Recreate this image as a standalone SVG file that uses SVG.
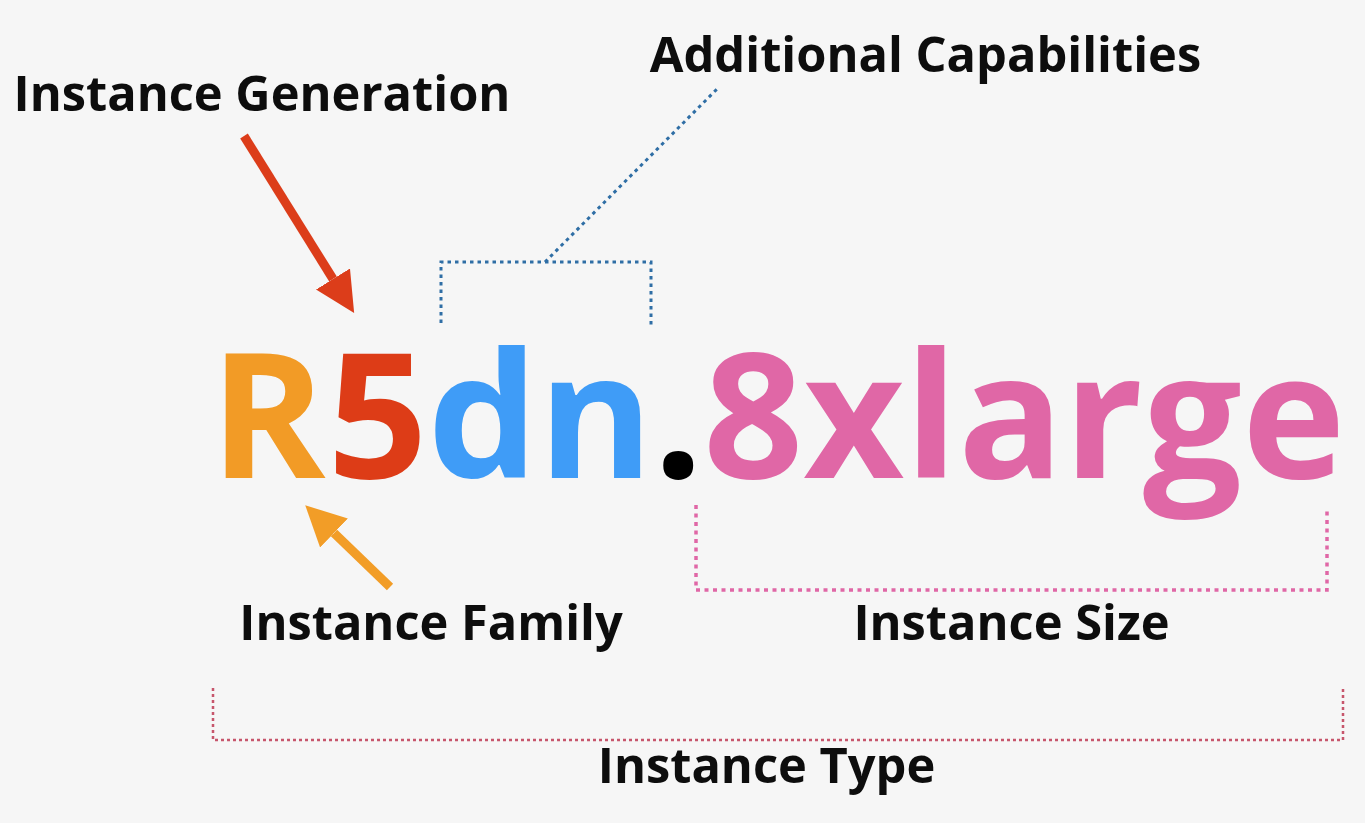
<svg xmlns="http://www.w3.org/2000/svg" width="1365" height="823" viewBox="0 0 1365 823">
<style>
.lbl{font-family:"Open Sans","Noto Sans","Liberation Sans",sans-serif;font-weight:700;font-size:48.8px;fill:#0d0d0d;text-anchor:middle}
.big{font-family:"Open Sans","Noto Sans","Liberation Sans",sans-serif;font-weight:700;font-size:175px}
.dotb{fill:none;stroke:#2F6EA5;stroke-width:3;stroke-dasharray:3.5 4}
.dotp{fill:none;stroke:#E067A6;stroke-width:3.5;stroke-dasharray:4 4.5}
.dott{fill:none;stroke:#C7566C;stroke-width:2.5;stroke-dasharray:3 3}
</style>
<defs>
<marker id="headR" markerUnits="userSpaceOnUse" markerWidth="44" markerHeight="44" refX="0" refY="22" orient="auto" viewBox="0 0 44 44"><path d="M0,2 L40,22 L0,42 z" fill="#DC3D1A"/></marker>
<marker id="headO" markerUnits="userSpaceOnUse" markerWidth="44" markerHeight="44" refX="0" refY="22" orient="auto" viewBox="0 0 44 44"><path d="M0,2 L40,22 L0,42 z" fill="#F29D27"/></marker>
</defs>
<rect width="1365" height="823" fill="#F6F6F6"/>
<g id="word">
<text class="big" x="210" y="478"><tspan fill="#F29B26">R</tspan><tspan fill="#DD3C17" dx="2">5</tspan><tspan fill="#3F9CF7">dn</tspan><tspan fill="#000">.</tspan><tspan fill="#E067A6">8xlarge</tspan></text>
</g>
<g id="label-generation"><text class="lbl" x="262" y="111">Instance Generation</text></g>
<g id="label-capabilities"><text class="lbl" x="925.5" y="72">Additional Capabilities</text></g>
<g id="label-family"><text class="lbl" x="431" y="640">Instance Family</text></g>
<g id="label-size"><text class="lbl" x="1011.5" y="640">Instance Size</text></g>
<g id="label-type"><text class="lbl" x="766.5" y="783">Instance Type</text></g>
<g id="connectors">
<line x1="244" y1="136" x2="333" y2="279" stroke="#DC3D1A" stroke-width="9" marker-end="url(#headR)"/>
<line x1="390" y1="587" x2="334" y2="533" stroke="#F29D27" stroke-width="9" marker-end="url(#headO)"/>
<path class="dotb" d="M441,323 V262 H651 V327"/>
<path class="dotb" d="M545,262 L718,88"/>
<path class="dotp" d="M696,505 V590 H1327 V507"/>
<path class="dott" d="M213,688 V740 H1343 V688"/>
</g>
</svg>
